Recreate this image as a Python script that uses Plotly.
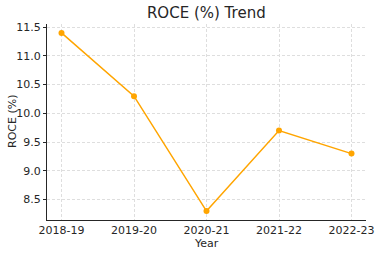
import plotly.graph_objects as go

years = ["2018-19", "2019-20", "2020-21", "2021-22", "2022-23"]
roce = [11.4, 10.3, 8.3, 9.7, 9.3]
y_ticks = [8.5, 9.0, 9.5, 10.0, 10.5, 11.0, 11.5]

fig = go.Figure(go.Scatter(
    x=years, y=roce, mode="lines+markers",
    line=dict(color="#FFA500", width=1.5),
    marker=dict(color="#FFA500", size=6),
))

font = "DejaVu Sans"
L, R, T, B = 47, 15, 24, 36
pw, ph = 381 - L - R, 256 - T - B
fig.update_layout(
    width=381, height=256,
    margin=dict(l=L, r=R, t=T, b=B),
    paper_bgcolor="white", plot_bgcolor="white",
    font=dict(family=font, size=11, color="#262626"),
    title=dict(text="ROCE (%) Trend", x=0.5415, xanchor="center", y=0.95, yanchor="middle",
               font=dict(family=font, size=15, color="#262626")),
    showlegend=False,
    annotations=[
        dict(text="Year", xref="paper", yref="paper", x=0.5, y=(220 - 243) / ph,
             xanchor="center", yanchor="middle", showarrow=False, borderpad=0,
             font=dict(family=font, size=11, color="#262626")),
        dict(text="ROCE (%)", xref="paper", yref="paper", x=(12 - L) / pw, y=0.5,
             xanchor="center", yanchor="middle", textangle=-90, showarrow=False,
             borderpad=0, font=dict(family=font, size=11, color="#262626")),
    ],
)
fig.update_xaxes(
    type="category", range=[-0.2, 4.2], automargin=False,
    showline=True, linecolor="#262626", linewidth=1,
    ticks="", ticklabelstandoff=0,
    showgrid=True, gridcolor="#dedede", griddash="3px,2px", gridwidth=0.6,
    zeroline=False,
)
fig.update_yaxes(
    range=[8.145, 11.555], tickvals=y_ticks, ticktext=[f"{v:.1f}" for v in y_ticks],
    automargin=False,
    showline=True, linecolor="#262626", linewidth=1,
    ticks="outside", ticklen=3, tickcolor="#262626",
    showgrid=True, gridcolor="#dedede", griddash="3px,2px", gridwidth=0.6,
    zeroline=False,
)
fig.write_html("out.html")
